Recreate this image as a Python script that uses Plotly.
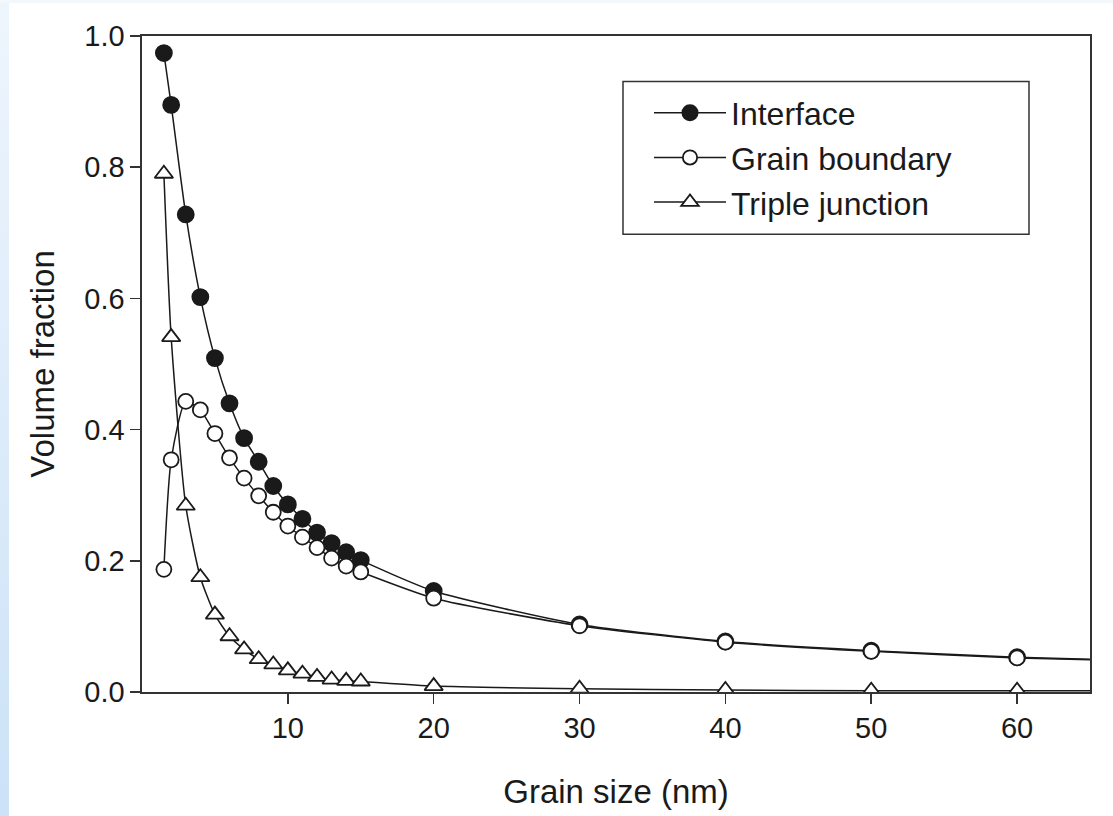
import plotly.graph_objects as go

# Data
grain_size = [1.5, 2, 3, 4, 5, 6, 7, 8, 9, 10, 11, 12, 13, 14, 15, 20, 30, 40, 50, 60, 65]
interface = [0.974, 0.895, 0.728, 0.602, 0.509, 0.440, 0.387, 0.351, 0.314, 0.286,
             0.264, 0.243, 0.227, 0.213, 0.201, 0.154, 0.103, 0.077, 0.063, 0.053, 0.050]
grain_boundary = [0.187, 0.354, 0.443, 0.430, 0.394, 0.357, 0.326, 0.299, 0.274, 0.253,
                  0.236, 0.220, 0.204, 0.192, 0.183, 0.143, 0.101, 0.076, 0.062, 0.052, 0.049]
triple_junction = [0.790, 0.541, 0.284, 0.175, 0.118, 0.085, 0.065, 0.050, 0.042, 0.033,
                   0.028, 0.023, 0.019, 0.017, 0.016, 0.009, 0.005, 0.003, 0.002, 0.002, 0.002]
# the last point (x=65) is only where the curve leaves the frame; it has no marker
has_marker = [True] * 20 + [False]

x_ticks = [10, 20, 30, 40, 50, 60]
y_ticks = [0.0, 0.2, 0.4, 0.6, 0.8, 1.0]

INK = "#1a1a1a"
FRAME = "#333333"
FONT = "Liberation Sans, Arial, Helvetica, sans-serif"


def sizes(flags, s):
    return [s if f else 0 for f in flags]


fig = go.Figure()
series = [
    ("Interface", interface, "circle", INK, 16),
    ("Grain boundary", grain_boundary, "circle", "white", 15),
    ("Triple junction", triple_junction, "triangle-up", "white", 16),
]
for name, ys, sym, fill, ms in series:
    fig.add_trace(go.Scatter(
        x=grain_size, y=ys, name=name, mode="lines+markers",
        line=dict(color=INK, width=1.5, shape="spline", smoothing=0.6),
        marker=dict(symbol=sym, size=sizes(has_marker, ms), opacity=1,
                    color=fill, line=dict(color=INK, width=1.8)),
    ))

# Page geometry: figure fills the page (body margin removed below)
W, H = 1113, 816
PL, PR, PT, PB = 142, 1090, 36, 698          # plot frame in page pixels
L, R, T, B = PL, W - PR, PT, H - PB
pw, ph = PR - PL, PB - PT


def px_to_paper_x(px):
    return (px - PL) / pw


def px_to_paper_y(py):
    return (PB - py) / ph


legend_box = dict(type="rect", xref="paper", yref="paper", layer="below",
                  x0=px_to_paper_x(623), x1=px_to_paper_x(1029),
                  y0=px_to_paper_y(236), y1=px_to_paper_y(82),
                  fillcolor="white", line=dict(color=FRAME, width=1.5))

fig.update_layout(
    width=W, height=H, autosize=False,
    margin=dict(l=L, r=R, t=T, b=B, pad=0),
    paper_bgcolor="rgba(0,0,0,0)", plot_bgcolor="white",
    font=dict(family=FONT, color=INK, size=30),
    showlegend=True,
    legend=dict(
        x=px_to_paper_x(649), y=px_to_paper_y(86), xanchor="left", yanchor="top",
        bgcolor="rgba(0,0,0,0)", borderwidth=0,
        font=dict(family=FONT, size=32, color=INK),
        itemwidth=72, tracegroupgap=0,
    ),
    shapes=[legend_box],
    xaxis=dict(
        range=[0, 65], tickmode="array", tickvals=x_ticks,
        ticktext=[str(v) for v in x_ticks],
        ticks="outside", ticklen=10, tickwidth=1.5, tickcolor=FRAME,
        showline=True, linecolor=FRAME, linewidth=1.6, mirror=True,
        showgrid=False, zeroline=False,
        tickfont=dict(family=FONT, size=29, color=INK),
        title=dict(text="Grain size (nm)", font=dict(family=FONT, size=33, color=INK), standoff=36),
    ),
    yaxis=dict(
        range=[0, 1.0], tickmode="array", tickvals=y_ticks,
        ticktext=[f"{v:.1f}" for v in y_ticks],
        ticks="outside", ticklen=10, tickwidth=1.5, tickcolor=FRAME,
        showline=True, linecolor=FRAME, linewidth=1.6, mirror=True,
        showgrid=False, zeroline=False,
        tickfont=dict(family=FONT, size=29, color=INK),
        title=dict(text="Volume fraction", font=dict(family=FONT, size=33, color=INK), standoff=20),
    ),
)

# page: no body margin, white with a light-blue slide edge at the left and top
page_css = (
    "document.documentElement.style.overflow = 'hidden';"
    "document.body.style.margin = '0';"
    "document.body.style.background = "
    "'linear-gradient(to bottom, #f3f8fd 3px, rgba(255,255,255,0) 3px), "
    "linear-gradient(to right, rgba(255,255,255,0) 9px, #ffffff 9px), "
    "linear-gradient(to bottom, #eef5fd, #cce2f7)';"
    "document.body.style.minHeight = '816px';"
)

fig.write_html("out.html", post_script=page_css,
               config={"displayModeBar": False, "staticPlot": True})
